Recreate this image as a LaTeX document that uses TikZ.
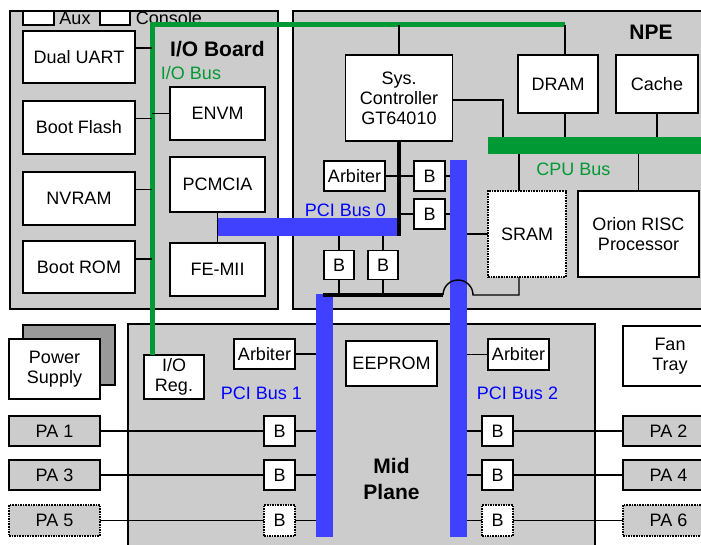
\documentclass[tikz,border=0pt]{standalone}
\usepackage{fontspec}
\setmainfont{Liberation Sans}
\definecolor{panel}{RGB}{204,204,204}
\definecolor{busblue}{RGB}{64,64,255}
\definecolor{busgreen}{RGB}{0,153,51}
\definecolor{shadowgray}{RGB}{153,153,153}
\definecolor{txtblue}{RGB}{0,0,255}
\begin{document}
\begin{tikzpicture}[x=1pt,y=-1pt,
  every node/.style={font=\fontsize{18}{20}\selectfont, inner sep=0pt, outer sep=0pt},
  blk/.style={draw, line width=1.6pt, fill=white, align=center},
  pabox/.style={draw, line width=1.6pt, fill=panel, align=center, minimum width=91pt, minimum height=30pt},
  dotblk/.style={blk, densely dotted},
  dotpa/.style={pabox, densely dotted},
  bbox/.style={blk, minimum width=31pt, minimum height=30pt},
  panelbox/.style={draw, line width=1.6pt, fill=panel},
  bluebar/.style={fill=busblue, draw=none},
  greenbar/.style={fill=busgreen, draw=none},
  conn/.style={line width=1.4pt},
  thickblk/.style={line width=4.5pt},
  gbus/.style={draw=busgreen, line width=5pt},
  title/.style={font=\fontsize{21}{26}\selectfont\bfseries, align=center},
  bluelbl/.style={text=txtblue},
  greenlbl/.style={text=busgreen}
]
\useasboundingbox (0,0) rectangle (701,545);
\clip (0,0) rectangle (701,545);
\fill[white] (0,0) rectangle (701,545);

% ---------- panels ----------
\node[panelbox, minimum width=268pt, minimum height=298pt] (ioboard) at (144,160) {};
\node[panelbox, minimum width=427pt, minimum height=298pt] (npe) at (506.5,160) {};
\node[panelbox, minimum width=467pt, minimum height=236pt] (mid) at (361.5,442) {};

% ---------- I/O board ----------
\node[blk, minimum width=31pt, minimum height=14pt] (aux) at (38.5,18) {};
\node (auxlbl) at (75,18.5) {Aux};
\node[blk, minimum width=30pt, minimum height=14pt] (console) at (115,18) {};
\node (conlbl) at (169,18.5) {Console};

\node[title] (iotitle) at (217.5,49) {I/O Board};
\node[greenlbl] (iobuslbl) at (191,73.5) {I/O Bus};

\node[blk, minimum width=112pt, minimum height=52pt] (uart) at (79,57) {Dual UART};
\node[blk, minimum width=112pt, minimum height=53pt] (bflash) at (79,127.5) {Boot Flash};
\node[blk, minimum width=112pt, minimum height=53pt] (nvram) at (79,198.5) {NVRAM};
\node[blk, minimum width=112pt, minimum height=52pt] (brom) at (79,267) {Boot ROM};
\node[blk, minimum width=95pt, minimum height=53pt] (envm) at (217.5,113.5) {ENVM};
\node[blk, minimum width=95pt, minimum height=55pt] (pcmcia) at (217.5,184.5) {PCMCIA};
\node[blk, minimum width=95pt, minimum height=53pt] (femii) at (217.5,269.5) {FE-MII};

% ---------- NPE ----------
\node[title] (npetitle) at (651,32.5) {NPE};
\node[blk, minimum width=107pt, minimum height=86pt] (sysc) at (399,98) {Sys.\\Controller\\GT64010};
\node[blk, minimum width=80pt, minimum height=58pt] (dram) at (558,84) {DRAM};
\node[blk, minimum width=82pt, minimum height=58pt] (cache) at (657,84) {Cache};
\node[greenbar, minimum width=232pt, minimum height=17pt] (cpubus) at (604,145.5) {};
\node[greenlbl] (cpulbl) at (573.5,169.5) {CPU Bus};
\node[blk, minimum width=61pt, minimum height=30pt] (arb0) at (354.5,176) {Arbiter};
\node[bbox] (b1) at (429.5,176) {B};
\node[bbox] (b2) at (429.5,214) {B};
\node[bbox, minimum width=30pt, minimum height=29pt] (b3) at (339,265) {B};
\node[bbox, minimum width=30pt, minimum height=29pt] (b4) at (383,265) {B};
\node[dotblk, minimum width=78pt, minimum height=86pt] (sram) at (527,234) {SRAM};
\node[blk, minimum width=121pt, minimum height=86pt] (orion) at (638.5,234) {Orion RISC\\Processor};
\node[bluelbl] (pci0lbl) at (345.5,210.5) {PCI Bus 0};

% ---------- outside / mid plane ----------
\node[draw, line width=1.6pt, fill=shadowgray, minimum width=92pt, minimum height=60pt] (psshadow) at (69,355) {};
\node[blk, minimum width=91pt, minimum height=60pt] (ps) at (54.5,369) {Power\\Supply};
\node[blk, minimum width=94pt, minimum height=60pt] (fan) at (670,356) {Fan\\Tray};
\node[blk, minimum width=60pt, minimum height=44pt] (ioreg) at (174,377) {I/O\\Reg.};
\node[blk, minimum width=61pt, minimum height=30pt] (arb1) at (264.5,354) {Arbiter};
\node[blk, minimum width=61pt, minimum height=31pt] (arb2) at (518.5,354.5) {Arbiter};
\node[blk, minimum width=91pt, minimum height=45pt] (eeprom) at (391.5,363.5) {EEPROM};
\node[bluelbl] (pci1lbl) at (261.5,393.5) {PCI Bus 1};
\node[bluelbl] (pci2lbl) at (517.5,393.5) {PCI Bus 2};
\node[title] (midtitle) at (391.5,479) {Mid\\Plane};

\node[pabox] (pa1) at (54.5,431) {PA 1};
\node[pabox] (pa3) at (54.5,475) {PA 3};
\node[dotpa, minimum height=31pt] (pa5) at (54.5,520.5) {PA 5};
\node[pabox] (pa2) at (668.5,431) {PA 2};
\node[pabox] (pa4) at (668.5,475) {PA 4};
\node[dotpa, minimum height=31pt] (pa6) at (668.5,520.5) {PA 6};
\node[bbox] (bl1) at (279.5,431) {B};
\node[bbox] (bl3) at (279.5,475) {B};
\node[bbox, densely dotted, minimum height=31pt] (bl5) at (279.5,520.5) {B};
\node[bbox] (br1) at (497.5,431) {B};
\node[bbox] (br3) at (497.5,475) {B};
\node[bbox, densely dotted, minimum height=31pt] (br5) at (497.5,520.5) {B};

% ---------- buses ----------
\node[bluebar, minimum width=182pt, minimum height=18pt] (pci0) at (308,227) {};
\node[bluebar, minimum width=17pt, minimum height=243pt] (pci1) at (324.5,415.5) {};
\node[bluebar, minimum width=17pt, minimum height=377pt] (pci2) at (458.5,348.5) {};

\coordinate (iotop) at (152,25);
\coordinate (ioright) at (565,25);
\coordinate (jl) at (323,295);
\coordinate (ja) at (443,295);
\coordinate (sj) at (519,295);
\coordinate (scx) at (503,100);

% I/O bus (green)
\draw[gbus] (iotop |- ioreg.north) -- (iotop) -- (ioright);

% ---------- connectors ----------
\draw[conn] ([yshift=9pt]uart.east) -- ([yshift=9pt]uart.east -| iotop);
\draw[conn] ([yshift=9pt]bflash.east) -- ([yshift=9pt]bflash.east -| iotop);
\draw[conn] ([yshift=9pt]nvram.east) -- ([yshift=9pt]nvram.east -| iotop);
\draw[conn] ([yshift=8pt]brom.east) -- ([yshift=8pt]brom.east -| iotop);
\draw[conn] (envm.west -| iotop) -- (envm.west);
\draw[conn] (pcmcia.south) -- (femii.north);

\draw[conn] (sysc.north) -- (sysc.north |- iotop);
\draw[conn] (ioright) -- (ioright |- dram.north);
\draw[conn] (ioright |- dram.south) -- (ioright |- cpubus.north);
\draw[conn] (cache.south) -- (cache.south |- cpubus.north);
\draw[conn] (sysc.east |- scx) -- (scx) -- (scx |- cpubus.north);
\draw[conn] (sram.north -| sj) -- (sj |- cpubus.south);
\draw[conn] (orion.north) -- (orion.north |- cpubus.south);

\draw[conn] (arb0.east) -- (b1.west);
\draw[conn] (b1.east) -- (b1.east -| pci2.west);
\draw[conn] (b2.west -| sysc.south) -- (b2.west);
\draw[conn] (b2.east) -- (b2.east -| pci2.west);
\draw[conn] (b3.north) -- (b3.north |- pci0.south);
\draw[conn] (b4.north) -- (b4.north |- pci0.south);
\draw[conn] (b3.south) -- (b3.south |- jl);
\draw[conn] (b4.south) -- (b4.south |- jl);
\draw[conn] (pci2.east |- sram.west) -- (sram.west);

\draw[thickblk] (sysc.south) -- (sysc.south |- pci0.south);
\draw[thickblk] (jl) -- (ja);
\draw[conn] (ja) arc[start angle=180, end angle=0, radius=15pt] -- (sj) -- (sj |- sram.south);

\draw[conn] (arb1.east) -- (arb1.east -| pci1.west);
\draw[conn] (pci2.east |- arb2.west) -- (arb2.west);

\draw[conn] (pa1.east) -- (bl1.west);
\draw[conn] (pa3.east) -- (bl3.west);
\draw[conn] (pa5.east) -- (bl5.west);
\draw[conn] (bl1.east) -- (bl1.east -| pci1.west);
\draw[conn] (bl3.east) -- (bl3.east -| pci1.west);
\draw[conn] (bl5.east) -- (bl5.east -| pci1.west);
\draw[conn] (pci2.east |- br1.west) -- (br1.west);
\draw[conn] (pci2.east |- br3.west) -- (br3.west);
\draw[conn] (pci2.east |- br5.west) -- (br5.west);
\draw[conn] (br1.east) -- (pa2.west);
\draw[conn] (br3.east) -- (pa4.west);
\draw[conn] (br5.east) -- (pa6.west);
\end{tikzpicture}
\end{document}
